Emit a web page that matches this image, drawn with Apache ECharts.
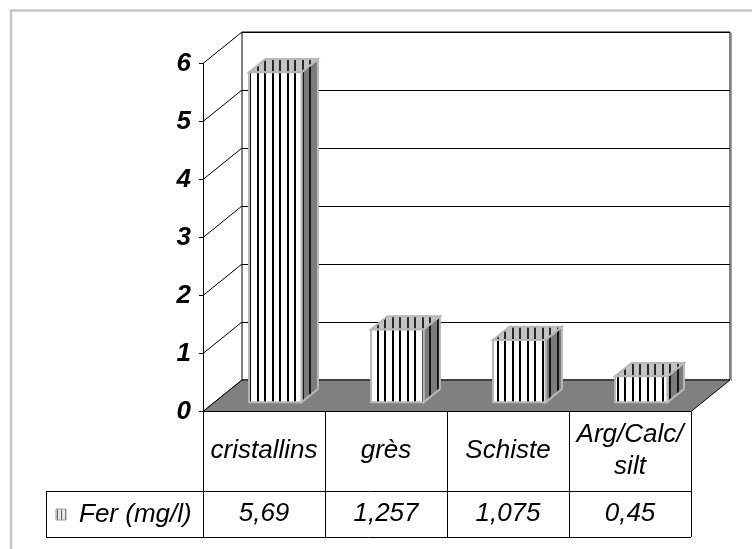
<!DOCTYPE html>
<html>
<head>
<meta charset="utf-8">
<script src="https://cdn.jsdelivr.net/npm/echarts@6/dist/echarts.min.js"></script>
<style>
html,body{margin:0;padding:0;background:#fff;}
#chart{width:752px;height:549px;}
</style>
</head>
<body>
<div id="chart"></div>
<script>
var categories = ['cristallins', 'grès', 'Schiste', 'Arg/Calc/\nsilt'];
var seriesName = 'Fer (mg/l)';
var values = [5.69, 1.257, 1.075, 0.45];
var yTicks = [0, 1, 2, 3, 4, 5, 6];

var FONT = "'Liberation Sans', Arial, sans-serif";
var DX = -39, DY = 31.5;      // depth offset back -> front
var F_FRONT = 0.71, F_BACK = 0.29;

function makePattern(bg, stripe) {
  var c = document.createElement('canvas');
  c.width = 15; c.height = 4;
  var g = c.getContext('2d');
  g.fillStyle = bg; g.fillRect(0, 0, 15, 4);
  g.fillStyle = stripe;
  g.fillRect(2, 0, 2, 4);
  g.fillRect(9, 0, 2, 4);
  return { image: c, repeat: 'repeat' };
}
function makeKeyPattern() {
  var c = document.createElement('canvas');
  c.width = 4; c.height = 4;
  var g = c.getContext('2d');
  g.fillStyle = '#e8e8e8'; g.fillRect(0, 0, 4, 4);
  g.fillStyle = '#606060'; g.fillRect(1, 0, 1, 4);
  return { image: c, repeat: 'repeat' };
}
var frontPat = makePattern('#ffffff', '#000000');
var topPat = makePattern('#c4c4c4', '#2a2a2a');
var sidePat = makePattern('#7c7c7c', '#151515');
var keyPat = makeKeyPattern();
var EDGE = '#b8b8b8';

function fmt(v) { return String(v).replace('.', ','); }

var chart = echarts.init(document.getElementById('chart'), null, { renderer: 'canvas' });

var option = {
  animation: false,
  backgroundColor: '#fff',
  grid: [
    { left: 242, top: 32, width: 488, height: 348, show: true, backgroundColor: '#fff', borderColor: '#000', borderWidth: 1, containLabel: false },
    { left: 203, top: 63.5, width: 488, height: 348, show: false, containLabel: false }
  ],
  xAxis: [
    { gridIndex: 0, type: 'category', data: categories, axisLine: { show: false }, axisTick: { show: false }, axisLabel: { show: false }, splitLine: { show: false } },
    { gridIndex: 1, type: 'category', data: categories, position: 'bottom',
      axisLine: { show: true, lineStyle: { color: '#000', width: 1 } },
      axisTick: { show: true, alignWithLabel: false, length: 125.5, lineStyle: { color: '#000', width: 1 } },
      axisLabel: { show: true, interval: 0, margin: 39, verticalAlign: 'middle', color: '#000', fontFamily: FONT, fontStyle: 'italic', fontSize: 26, lineHeight: 32 },
      splitLine: { show: false } },
    { gridIndex: 1, type: 'category', data: categories, position: 'bottom', offset: 80,
      axisLine: { show: false }, axisTick: { show: false },
      axisLabel: { show: true, interval: 0, margin: 22.5, verticalAlign: 'middle', color: '#000', fontFamily: FONT, fontStyle: 'italic', fontSize: 26,
        formatter: function (v, i) { return fmt(values[i]); } },
      splitLine: { show: false } }
  ],
  yAxis: [
    { gridIndex: 0, type: 'value', min: 0, max: 6, interval: 1,
      axisLine: { show: false }, axisTick: { show: false }, axisLabel: { show: false },
      splitLine: { show: true, lineStyle: { color: '#000', width: 1 } } },
    { gridIndex: 1, type: 'value', min: 0, max: 6, interval: 1,
      axisLine: { show: true, lineStyle: { color: '#000', width: 1 } },
      axisTick: { show: true, length: 4, lineStyle: { color: '#000' } },
      axisLabel: { show: true, margin: 12, color: '#000', fontFamily: FONT, fontStyle: 'italic', fontWeight: 'bold', fontSize: 26 },
      splitLine: { show: false } }
  ],
  series: [
    { // side wall diagonals
      type: 'custom', xAxisIndex: 0, yAxisIndex: 0, clip: false, silent: true, z: 3,
      data: yTicks.map(function (t) { return [0, t]; }),
      renderItem: function (params, api) {
        var y = api.coord([0, api.value(1)])[1];
        var x = params.coordSys.x;
        return { type: 'line', shape: { x1: x, y1: y, x2: x + DX, y2: y + DY }, style: { stroke: '#000', lineWidth: 1 } };
      }
    },
    { // floor
      type: 'custom', xAxisIndex: 0, yAxisIndex: 0, clip: false, silent: true, z: 4,
      data: [[0, 0]],
      renderItem: function (params, api) {
        var cs = params.coordSys;
        var y0 = api.coord([0, 0])[1];
        var x0 = cs.x, x1 = cs.x + cs.width;
        return { type: 'polygon', shape: { points: [[x0, y0], [x1, y0], [x1 + DX, y0 + DY], [x0 + DX, y0 + DY]] },
          style: { fill: '#808080', stroke: '#000', lineWidth: 1 } };
      }
    },
    { // 3D bars
      name: seriesName, type: 'custom', xAxisIndex: 0, yAxisIndex: 0, clip: false, z: 5,
      data: values.map(function (v, i) { return [i, v]; }),
      renderItem: function (params, api) {
        var cat = api.value(0), val = api.value(1);
        var base = api.coord([cat, 0]);
        var top = api.coord([cat, val]);
        var band = api.size([1, 0])[0];
        var w = band * 0.43;
        var xl = base[0] - w / 2, xr = base[0] + w / 2;
        function pt(x, y, f) { return [x + DX * f, y + DY * f]; }
        var FTL = pt(xl, top[1], F_FRONT), FTR = pt(xr, top[1], F_FRONT);
        var FBL = pt(xl, base[1], F_FRONT), FBR = pt(xr, base[1], F_FRONT);
        var BTL = pt(xl, top[1], F_BACK), BTR = pt(xr, top[1], F_BACK), BBR = pt(xr, base[1], F_BACK);
        return { type: 'group', children: [
          { type: 'polygon', shape: { points: [FTR, BTR, BBR, FBR] }, style: { fill: sidePat, stroke: EDGE, lineWidth: 2 } },
          { type: 'polygon', shape: { points: [FTL, FTR, BTR, BTL] }, style: { fill: topPat, stroke: EDGE, lineWidth: 2 } },
          { type: 'polygon', shape: { points: [FTL, FTR, FBR, FBL] }, style: { fill: frontPat, stroke: EDGE, lineWidth: 2 } }
        ] };
      }
    }
  ],
  graphic: [
    { type: 'rect', z: 0, silent: true, shape: { x: 11, y: 10.5, width: 900, height: 700 }, style: { fill: 'none', stroke: '#c6c6c6', lineWidth: 2.5 } },
    { type: 'line', z: 10, silent: true, shape: { x1: 46, y1: 491.5, x2: 691, y2: 491.5 }, style: { stroke: '#000', lineWidth: 1 } },
    { type: 'line', z: 10, silent: true, shape: { x1: 46, y1: 537.5, x2: 691, y2: 537.5 }, style: { stroke: '#000', lineWidth: 1 } },
    { type: 'line', z: 10, silent: true, shape: { x1: 46.5, y1: 491.5, x2: 46.5, y2: 537.5 }, style: { stroke: '#000', lineWidth: 1 } },
    { type: 'line', z: 1, silent: true, shape: { x1: 731.5, y1: 33, x2: 731.5, y2: 381 }, style: { stroke: '#a0a0a0', lineWidth: 1 } },
    { type: 'rect', z: 10, silent: true, shape: { x: 56, y: 509, width: 10, height: 11 }, style: { fill: keyPat, stroke: '#9a9a9a', lineWidth: 1 } },
    { type: 'text', z: 10, silent: true, style: { text: seriesName, x: 79, y: 514.5, fill: '#000', fontFamily: FONT, fontStyle: 'italic', fontSize: 26, verticalAlign: 'middle', align: 'left' } }
  ]
};
chart.setOption(option);
</script>
</body>
</html>
